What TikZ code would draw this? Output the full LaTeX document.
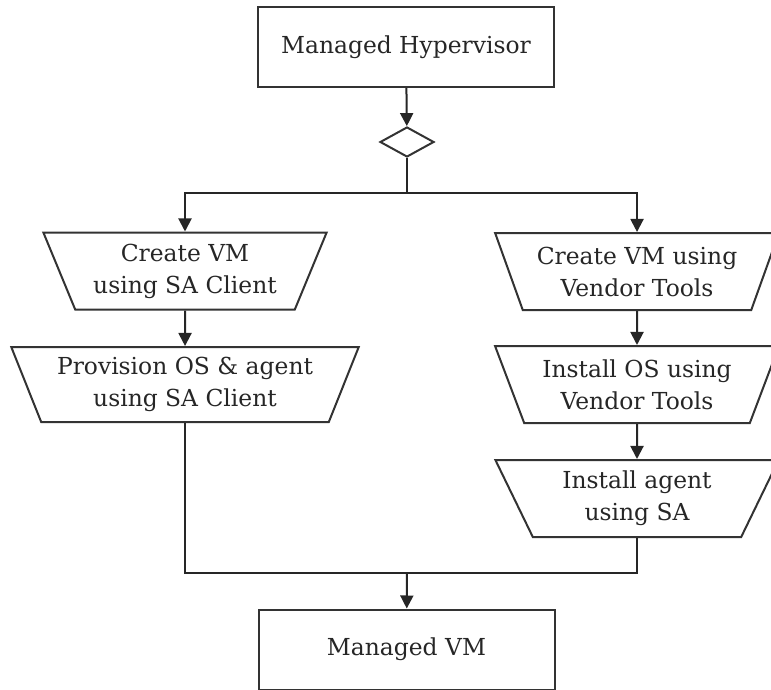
\documentclass[tikz,border=0pt]{standalone}
\usepackage{fontspec}
\setmainfont{DejaVu Serif}
\usepackage{tikz}
\usetikzlibrary{arrows.meta,shapes.geometric}

\begin{document}
\begin{tikzpicture}[x=1pt,y=-1pt,line width=2pt,
  every node/.style={text=black!85,font=\fontsize{23.4}{32}\selectfont},
  box/.style={draw=black!80,rectangle,minimum width=296pt,minimum height=80pt,inner sep=0pt},
  trap/.style={draw=black!80,trapezium,trapezium stretches=true,shape border rotate=180,
    trapezium left angle=64,trapezium right angle=64,minimum width=284pt,
    minimum height=77pt,inner sep=0pt,align=center},
  arr/.style={-{Triangle[length=13pt,width=13pt]}}]
  \useasboundingbox (0,0) rectangle (771,690);
  \node[box] (hyper) at (406,47) {Managed Hypervisor};
  \node[draw=black!80,diamond,minimum width=54pt,minimum height=30pt,inner sep=0pt] (dec) at (407,142) {};
  \coordinate (split) at (407,193);
  \node[trap] (c1) at (185,271) {Create VM\\using SA Client};
  \node[trap,minimum width=349pt,minimum height=75pt] (p1) at (185,384.5) {Provision OS \& agent\\using SA Client};
  \node[trap] (v1) at (637,271.5) {Create VM using\\Vendor Tools};
  \node[trap] (v2) at (637,384.5) {Install OS using\\Vendor Tools};
  \node[trap] (v3) at (637,498.5) {Install agent\\using SA};
  \coordinate (join) at (407,573);
  \node[box] (vm) at (406.5,649.5) {Managed VM};
  \begin{scope}[draw=black!85]
  \draw[arr] (hyper) -- (dec);
  \draw (dec) -- (split);
  \draw[arr] (split) -| (c1);
  \draw[arr] (split) -| (v1);
  \draw[arr] (c1) -- (p1);
  \draw[arr] (v1) -- (v2);
  \draw[arr] (v2) -- (v3);
  \draw (p1) |- (join);
  \draw (v3) |- (join);
  \draw[arr] (join) -- (vm);
  \end{scope}
\end{tikzpicture}
\end{document}
